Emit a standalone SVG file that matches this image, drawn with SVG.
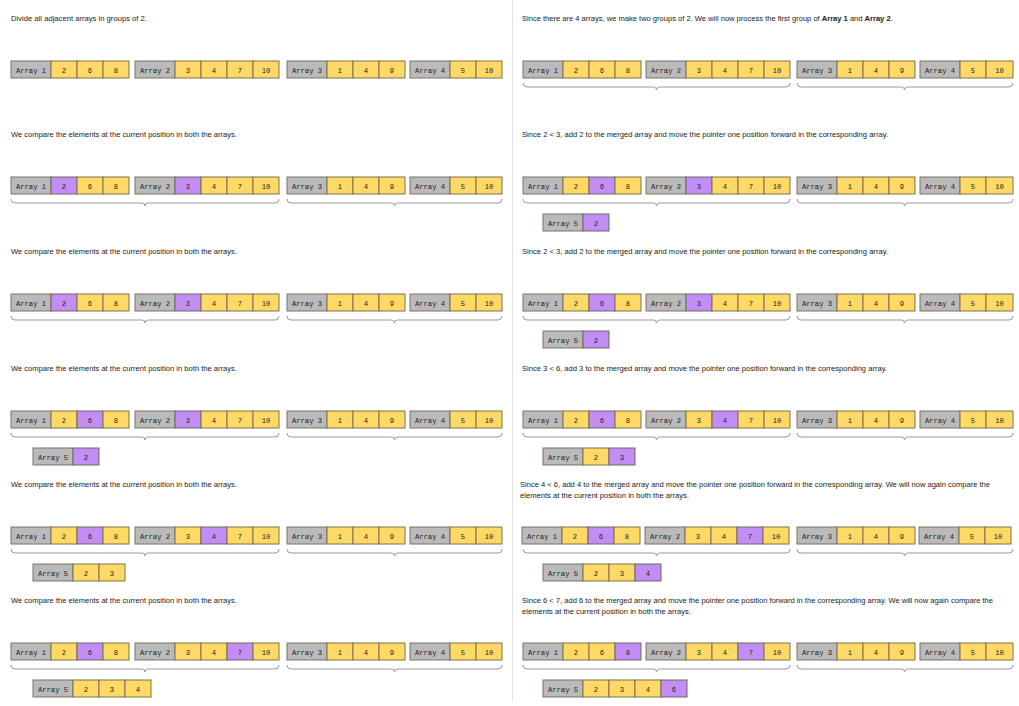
<svg xmlns="http://www.w3.org/2000/svg" width="1019" height="706" viewBox="0 0 1019 706">
<style>
  .h { font-family: "Liberation Sans", Arial, sans-serif; font-size: 7.3px; fill: #222; }
  .b { font-weight: bold; }
  .m { font-family: "Liberation Mono", "Courier New", monospace; font-size: 7.2px; fill: #1e1e1e; text-anchor: middle; }
  .g { fill: #bababa; stroke: #7a7466; stroke-width: 1; }
  .y { fill: #ffd966; stroke: #7d7152; stroke-width: 1; }
  .p { fill: #c28ef6; stroke: #6f6a5a; stroke-width: 1; }
  .br { fill: none; stroke: #9a9a9a; stroke-width: 1; }
  .sep { stroke: #e2e2e2; stroke-width: 1; }
</style>
<defs>
  <!-- braces grouping Array 1+2 and Array 3+4 (local to a panel) -->
  <g id="bracesL">
    <path class="br" d="M11,83 q0,4 4,4 H142 q3,0 3,3 q0,-3 3,-3 H275 q4,0 4,-4"/>
    <path class="br" d="M287,83 q0,4 4,4 H391.5 q3,0 3,3 q0,-3 3,-3 H498 q4,0 4,-4"/>
  </g>
  <g id="bracesR">
    <path class="br" d="M11,83 q0,4 4,4 H141.5 q3,0 3,3 q0,-3 3,-3 H274 q4,0 4,-4"/>
    <path class="br" d="M285,83 q0,4 4,4 H389.5 q3,0 3,3 q0,-3 3,-3 H497 q4,0 4,-4"/>
  </g>
</defs>

<rect width="1019" height="706" fill="#ffffff"/>
<line class="sep" x1="512.5" y1="0" x2="512.5" y2="702"/>

<!-- ===== left column ===== -->
<g id="panel-L1">
  <text class="h" x="11" y="21" textLength="136" lengthAdjust="spacingAndGlyphs">Divide all adjacent arrays in groups of 2.</text>
  <g id="L1-array1" transform="translate(11,61)"><rect class="g" width="40" height="17"/><text class="m" x="20" y="11.5">Array 1</text><rect class="y" x="40" width="26" height="17"/><text class="m" x="53" y="11.5">2</text><rect class="y" x="66" width="26" height="17"/><text class="m" x="79" y="11.5">6</text><rect class="y" x="92" width="26" height="17"/><text class="m" x="105" y="11.5">8</text></g>
  <g id="L1-array2" transform="translate(135,61)"><rect class="g" width="40" height="17"/><text class="m" x="20" y="11.5">Array 2</text><rect class="y" x="40" width="26" height="17"/><text class="m" x="53" y="11.5">3</text><rect class="y" x="66" width="26" height="17"/><text class="m" x="79" y="11.5">4</text><rect class="y" x="92" width="26" height="17"/><text class="m" x="105" y="11.5">7</text><rect class="y" x="118" width="26" height="17"/><text class="m" x="131" y="11.5">10</text></g>
  <g id="L1-array3" transform="translate(287,61)"><rect class="g" width="40" height="17"/><text class="m" x="20" y="11.5">Array 3</text><rect class="y" x="40" width="26" height="17"/><text class="m" x="53" y="11.5">1</text><rect class="y" x="66" width="26" height="17"/><text class="m" x="79" y="11.5">4</text><rect class="y" x="92" width="26" height="17"/><text class="m" x="105" y="11.5">9</text></g>
  <g id="L1-array4" transform="translate(410,61)"><rect class="g" width="40" height="17"/><text class="m" x="20" y="11.5">Array 4</text><rect class="y" x="40" width="26" height="17"/><text class="m" x="53" y="11.5">5</text><rect class="y" x="66" width="26" height="17"/><text class="m" x="79" y="11.5">10</text></g>
</g>

<g id="panel-L2" transform="translate(0,116)">
  <text class="h" x="11" y="21" textLength="226" lengthAdjust="spacingAndGlyphs">We compare the elements at the current position in both the arrays.</text>
  <g id="L2-array1" transform="translate(11,61)"><rect class="g" width="40" height="17"/><text class="m" x="20" y="11.5">Array 1</text><rect class="p" x="40" width="26" height="17"/><text class="m" x="53" y="11.5">2</text><rect class="y" x="66" width="26" height="17"/><text class="m" x="79" y="11.5">6</text><rect class="y" x="92" width="26" height="17"/><text class="m" x="105" y="11.5">8</text></g>
  <g id="L2-array2" transform="translate(135,61)"><rect class="g" width="40" height="17"/><text class="m" x="20" y="11.5">Array 2</text><rect class="p" x="40" width="26" height="17"/><text class="m" x="53" y="11.5">3</text><rect class="y" x="66" width="26" height="17"/><text class="m" x="79" y="11.5">4</text><rect class="y" x="92" width="26" height="17"/><text class="m" x="105" y="11.5">7</text><rect class="y" x="118" width="26" height="17"/><text class="m" x="131" y="11.5">10</text></g>
  <g id="L2-array3" transform="translate(287,61)"><rect class="g" width="40" height="17"/><text class="m" x="20" y="11.5">Array 3</text><rect class="y" x="40" width="26" height="17"/><text class="m" x="53" y="11.5">1</text><rect class="y" x="66" width="26" height="17"/><text class="m" x="79" y="11.5">4</text><rect class="y" x="92" width="26" height="17"/><text class="m" x="105" y="11.5">9</text></g>
  <g id="L2-array4" transform="translate(410,61)"><rect class="g" width="40" height="17"/><text class="m" x="20" y="11.5">Array 4</text><rect class="y" x="40" width="26" height="17"/><text class="m" x="53" y="11.5">5</text><rect class="y" x="66" width="26" height="17"/><text class="m" x="79" y="11.5">10</text></g>
  <g id="L2-braces"><use href="#bracesL"/></g>
</g>

<g id="panel-L3" transform="translate(0,233)">
  <text class="h" x="11" y="21" textLength="226" lengthAdjust="spacingAndGlyphs">We compare the elements at the current position in both the arrays.</text>
  <g id="L3-array1" transform="translate(11,61)"><rect class="g" width="40" height="17"/><text class="m" x="20" y="11.5">Array 1</text><rect class="p" x="40" width="26" height="17"/><text class="m" x="53" y="11.5">2</text><rect class="y" x="66" width="26" height="17"/><text class="m" x="79" y="11.5">6</text><rect class="y" x="92" width="26" height="17"/><text class="m" x="105" y="11.5">8</text></g>
  <g id="L3-array2" transform="translate(135,61)"><rect class="g" width="40" height="17"/><text class="m" x="20" y="11.5">Array 2</text><rect class="p" x="40" width="26" height="17"/><text class="m" x="53" y="11.5">3</text><rect class="y" x="66" width="26" height="17"/><text class="m" x="79" y="11.5">4</text><rect class="y" x="92" width="26" height="17"/><text class="m" x="105" y="11.5">7</text><rect class="y" x="118" width="26" height="17"/><text class="m" x="131" y="11.5">10</text></g>
  <g id="L3-array3" transform="translate(287,61)"><rect class="g" width="40" height="17"/><text class="m" x="20" y="11.5">Array 3</text><rect class="y" x="40" width="26" height="17"/><text class="m" x="53" y="11.5">1</text><rect class="y" x="66" width="26" height="17"/><text class="m" x="79" y="11.5">4</text><rect class="y" x="92" width="26" height="17"/><text class="m" x="105" y="11.5">9</text></g>
  <g id="L3-array4" transform="translate(410,61)"><rect class="g" width="40" height="17"/><text class="m" x="20" y="11.5">Array 4</text><rect class="y" x="40" width="26" height="17"/><text class="m" x="53" y="11.5">5</text><rect class="y" x="66" width="26" height="17"/><text class="m" x="79" y="11.5">10</text></g>
  <g id="L3-braces"><use href="#bracesL"/></g>
</g>

<g id="panel-L4" transform="translate(0,350)">
  <text class="h" x="11" y="21" textLength="226" lengthAdjust="spacingAndGlyphs">We compare the elements at the current position in both the arrays.</text>
  <g id="L4-array1" transform="translate(11,61)"><rect class="g" width="40" height="17"/><text class="m" x="20" y="11.5">Array 1</text><rect class="y" x="40" width="26" height="17"/><text class="m" x="53" y="11.5">2</text><rect class="p" x="66" width="26" height="17"/><text class="m" x="79" y="11.5">6</text><rect class="y" x="92" width="26" height="17"/><text class="m" x="105" y="11.5">8</text></g>
  <g id="L4-array2" transform="translate(135,61)"><rect class="g" width="40" height="17"/><text class="m" x="20" y="11.5">Array 2</text><rect class="p" x="40" width="26" height="17"/><text class="m" x="53" y="11.5">3</text><rect class="y" x="66" width="26" height="17"/><text class="m" x="79" y="11.5">4</text><rect class="y" x="92" width="26" height="17"/><text class="m" x="105" y="11.5">7</text><rect class="y" x="118" width="26" height="17"/><text class="m" x="131" y="11.5">10</text></g>
  <g id="L4-array3" transform="translate(287,61)"><rect class="g" width="40" height="17"/><text class="m" x="20" y="11.5">Array 3</text><rect class="y" x="40" width="26" height="17"/><text class="m" x="53" y="11.5">1</text><rect class="y" x="66" width="26" height="17"/><text class="m" x="79" y="11.5">4</text><rect class="y" x="92" width="26" height="17"/><text class="m" x="105" y="11.5">9</text></g>
  <g id="L4-array4" transform="translate(410,61)"><rect class="g" width="40" height="17"/><text class="m" x="20" y="11.5">Array 4</text><rect class="y" x="40" width="26" height="17"/><text class="m" x="53" y="11.5">5</text><rect class="y" x="66" width="26" height="17"/><text class="m" x="79" y="11.5">10</text></g>
  <g id="L4-braces"><use href="#bracesL"/></g>
  <g id="L4-array5" transform="translate(33,98)"><rect class="g" width="40" height="17"/><text class="m" x="20" y="11.5">Array 5</text><rect class="p" x="40" width="26" height="17"/><text class="m" x="53" y="11.5">2</text></g>
</g>

<g id="panel-L5" transform="translate(0,466)">
  <text class="h" x="11" y="21" textLength="226" lengthAdjust="spacingAndGlyphs">We compare the elements at the current position in both the arrays.</text>
  <g id="L5-array1" transform="translate(11,61)"><rect class="g" width="40" height="17"/><text class="m" x="20" y="11.5">Array 1</text><rect class="y" x="40" width="26" height="17"/><text class="m" x="53" y="11.5">2</text><rect class="p" x="66" width="26" height="17"/><text class="m" x="79" y="11.5">6</text><rect class="y" x="92" width="26" height="17"/><text class="m" x="105" y="11.5">8</text></g>
  <g id="L5-array2" transform="translate(135,61)"><rect class="g" width="40" height="17"/><text class="m" x="20" y="11.5">Array 2</text><rect class="y" x="40" width="26" height="17"/><text class="m" x="53" y="11.5">3</text><rect class="p" x="66" width="26" height="17"/><text class="m" x="79" y="11.5">4</text><rect class="y" x="92" width="26" height="17"/><text class="m" x="105" y="11.5">7</text><rect class="y" x="118" width="26" height="17"/><text class="m" x="131" y="11.5">10</text></g>
  <g id="L5-array3" transform="translate(287,61)"><rect class="g" width="40" height="17"/><text class="m" x="20" y="11.5">Array 3</text><rect class="y" x="40" width="26" height="17"/><text class="m" x="53" y="11.5">1</text><rect class="y" x="66" width="26" height="17"/><text class="m" x="79" y="11.5">4</text><rect class="y" x="92" width="26" height="17"/><text class="m" x="105" y="11.5">9</text></g>
  <g id="L5-array4" transform="translate(410,61)"><rect class="g" width="40" height="17"/><text class="m" x="20" y="11.5">Array 4</text><rect class="y" x="40" width="26" height="17"/><text class="m" x="53" y="11.5">5</text><rect class="y" x="66" width="26" height="17"/><text class="m" x="79" y="11.5">10</text></g>
  <g id="L5-braces"><use href="#bracesL"/></g>
  <g id="L5-array5" transform="translate(33,98)"><rect class="g" width="40" height="17"/><text class="m" x="20" y="11.5">Array 5</text><rect class="y" x="40" width="26" height="17"/><text class="m" x="53" y="11.5">2</text><rect class="y" x="66" width="26" height="17"/><text class="m" x="79" y="11.5">3</text></g>
</g>

<g id="panel-L6" transform="translate(0,582)">
  <text class="h" x="11" y="21" textLength="226" lengthAdjust="spacingAndGlyphs">We compare the elements at the current position in both the arrays.</text>
  <g id="L6-array1" transform="translate(11,61)"><rect class="g" width="40" height="17"/><text class="m" x="20" y="11.5">Array 1</text><rect class="y" x="40" width="26" height="17"/><text class="m" x="53" y="11.5">2</text><rect class="p" x="66" width="26" height="17"/><text class="m" x="79" y="11.5">6</text><rect class="y" x="92" width="26" height="17"/><text class="m" x="105" y="11.5">8</text></g>
  <g id="L6-array2" transform="translate(135,61)"><rect class="g" width="40" height="17"/><text class="m" x="20" y="11.5">Array 2</text><rect class="y" x="40" width="26" height="17"/><text class="m" x="53" y="11.5">3</text><rect class="y" x="66" width="26" height="17"/><text class="m" x="79" y="11.5">4</text><rect class="p" x="92" width="26" height="17"/><text class="m" x="105" y="11.5">7</text><rect class="y" x="118" width="26" height="17"/><text class="m" x="131" y="11.5">10</text></g>
  <g id="L6-array3" transform="translate(287,61)"><rect class="g" width="40" height="17"/><text class="m" x="20" y="11.5">Array 3</text><rect class="y" x="40" width="26" height="17"/><text class="m" x="53" y="11.5">1</text><rect class="y" x="66" width="26" height="17"/><text class="m" x="79" y="11.5">4</text><rect class="y" x="92" width="26" height="17"/><text class="m" x="105" y="11.5">9</text></g>
  <g id="L6-array4" transform="translate(410,61)"><rect class="g" width="40" height="17"/><text class="m" x="20" y="11.5">Array 4</text><rect class="y" x="40" width="26" height="17"/><text class="m" x="53" y="11.5">5</text><rect class="y" x="66" width="26" height="17"/><text class="m" x="79" y="11.5">10</text></g>
  <g id="L6-braces"><use href="#bracesL"/></g>
  <g id="L6-array5" transform="translate(33,98)"><rect class="g" width="40" height="17"/><text class="m" x="20" y="11.5">Array 5</text><rect class="y" x="40" width="26" height="17"/><text class="m" x="53" y="11.5">2</text><rect class="y" x="66" width="26" height="17"/><text class="m" x="79" y="11.5">3</text><rect class="y" x="92" width="26" height="17"/><text class="m" x="105" y="11.5">4</text></g>
</g>

<!-- ===== right column ===== -->
<g id="panel-R1" transform="translate(512,0)">
  <text class="h" x="10" y="21" style="font-size:7.55px">Since there are 4 arrays, we make two groups of 2. We will now process the first group of <tspan class="b">Array 1</tspan> and <tspan class="b">Array 2</tspan>.</text>
  <g id="R1-array1" transform="translate(11,61)"><rect class="g" width="40" height="17"/><text class="m" x="20" y="11.5">Array 1</text><rect class="y" x="40" width="26" height="17"/><text class="m" x="53" y="11.5">2</text><rect class="y" x="66" width="26" height="17"/><text class="m" x="79" y="11.5">6</text><rect class="y" x="92" width="26" height="17"/><text class="m" x="105" y="11.5">8</text></g>
  <g id="R1-array2" transform="translate(134,61)"><rect class="g" width="40" height="17"/><text class="m" x="20" y="11.5">Array 2</text><rect class="y" x="40" width="26" height="17"/><text class="m" x="53" y="11.5">3</text><rect class="y" x="66" width="26" height="17"/><text class="m" x="79" y="11.5">4</text><rect class="y" x="92" width="26" height="17"/><text class="m" x="105" y="11.5">7</text><rect class="y" x="118" width="26" height="17"/><text class="m" x="131" y="11.5">10</text></g>
  <g id="R1-array3" transform="translate(285,61)"><rect class="g" width="40" height="17"/><text class="m" x="20" y="11.5">Array 3</text><rect class="y" x="40" width="26" height="17"/><text class="m" x="53" y="11.5">1</text><rect class="y" x="66" width="26" height="17"/><text class="m" x="79" y="11.5">4</text><rect class="y" x="92" width="26" height="17"/><text class="m" x="105" y="11.5">9</text></g>
  <g id="R1-array4" transform="translate(408,61)"><rect class="g" width="40" height="17"/><text class="m" x="20" y="11.5">Array 4</text><rect class="y" x="40" width="26" height="17"/><text class="m" x="53" y="11.5">5</text><rect class="y" x="66" width="27" height="17"/><text class="m" x="79.5" y="11.5">10</text></g>
  <g id="R1-braces"><use href="#bracesR"/></g>
</g>

<g id="panel-R2" transform="translate(512,116)">
  <text class="h" x="10" y="21" textLength="366" lengthAdjust="spacingAndGlyphs">Since 2 &lt; 3, add 2 to the merged array and move the pointer one position forward in the corresponding array.</text>
  <g id="R2-array1" transform="translate(11,61)"><rect class="g" width="40" height="17"/><text class="m" x="20" y="11.5">Array 1</text><rect class="y" x="40" width="26" height="17"/><text class="m" x="53" y="11.5">2</text><rect class="p" x="66" width="26" height="17"/><text class="m" x="79" y="11.5">6</text><rect class="y" x="92" width="26" height="17"/><text class="m" x="105" y="11.5">8</text></g>
  <g id="R2-array2" transform="translate(134,61)"><rect class="g" width="40" height="17"/><text class="m" x="20" y="11.5">Array 2</text><rect class="p" x="40" width="26" height="17"/><text class="m" x="53" y="11.5">3</text><rect class="y" x="66" width="26" height="17"/><text class="m" x="79" y="11.5">4</text><rect class="y" x="92" width="26" height="17"/><text class="m" x="105" y="11.5">7</text><rect class="y" x="118" width="26" height="17"/><text class="m" x="131" y="11.5">10</text></g>
  <g id="R2-array3" transform="translate(285,61)"><rect class="g" width="40" height="17"/><text class="m" x="20" y="11.5">Array 3</text><rect class="y" x="40" width="26" height="17"/><text class="m" x="53" y="11.5">1</text><rect class="y" x="66" width="26" height="17"/><text class="m" x="79" y="11.5">4</text><rect class="y" x="92" width="26" height="17"/><text class="m" x="105" y="11.5">9</text></g>
  <g id="R2-array4" transform="translate(408,61)"><rect class="g" width="40" height="17"/><text class="m" x="20" y="11.5">Array 4</text><rect class="y" x="40" width="26" height="17"/><text class="m" x="53" y="11.5">5</text><rect class="y" x="66" width="27" height="17"/><text class="m" x="79.5" y="11.5">10</text></g>
  <g id="R2-braces"><use href="#bracesR"/></g>
  <g id="R2-array5" transform="translate(31,98)"><rect class="g" width="40" height="17"/><text class="m" x="20" y="11.5">Array 5</text><rect class="p" x="40" width="26" height="17"/><text class="m" x="53" y="11.5">2</text></g>
</g>

<g id="panel-R3" transform="translate(512,233)">
  <text class="h" x="10" y="21" textLength="366" lengthAdjust="spacingAndGlyphs">Since 2 &lt; 3, add 2 to the merged array and move the pointer one position forward in the corresponding array.</text>
  <g id="R3-array1" transform="translate(11,61)"><rect class="g" width="40" height="17"/><text class="m" x="20" y="11.5">Array 1</text><rect class="y" x="40" width="26" height="17"/><text class="m" x="53" y="11.5">2</text><rect class="p" x="66" width="26" height="17"/><text class="m" x="79" y="11.5">6</text><rect class="y" x="92" width="26" height="17"/><text class="m" x="105" y="11.5">8</text></g>
  <g id="R3-array2" transform="translate(134,61)"><rect class="g" width="40" height="17"/><text class="m" x="20" y="11.5">Array 2</text><rect class="p" x="40" width="26" height="17"/><text class="m" x="53" y="11.5">3</text><rect class="y" x="66" width="26" height="17"/><text class="m" x="79" y="11.5">4</text><rect class="y" x="92" width="26" height="17"/><text class="m" x="105" y="11.5">7</text><rect class="y" x="118" width="26" height="17"/><text class="m" x="131" y="11.5">10</text></g>
  <g id="R3-array3" transform="translate(285,61)"><rect class="g" width="40" height="17"/><text class="m" x="20" y="11.5">Array 3</text><rect class="y" x="40" width="26" height="17"/><text class="m" x="53" y="11.5">1</text><rect class="y" x="66" width="26" height="17"/><text class="m" x="79" y="11.5">4</text><rect class="y" x="92" width="26" height="17"/><text class="m" x="105" y="11.5">9</text></g>
  <g id="R3-array4" transform="translate(408,61)"><rect class="g" width="40" height="17"/><text class="m" x="20" y="11.5">Array 4</text><rect class="y" x="40" width="26" height="17"/><text class="m" x="53" y="11.5">5</text><rect class="y" x="66" width="27" height="17"/><text class="m" x="79.5" y="11.5">10</text></g>
  <g id="R3-braces"><use href="#bracesR"/></g>
  <g id="R3-array5" transform="translate(31,98)"><rect class="g" width="40" height="17"/><text class="m" x="20" y="11.5">Array 5</text><rect class="p" x="40" width="26" height="17"/><text class="m" x="53" y="11.5">2</text></g>
</g>

<g id="panel-R4" transform="translate(512,350)">
  <text class="h" x="10" y="21" textLength="365" lengthAdjust="spacingAndGlyphs">Since 3 &lt; 6, add 3 to the merged array and move the pointer one position forward in the corresponding array.</text>
  <g id="R4-array1" transform="translate(11,61)"><rect class="g" width="40" height="17"/><text class="m" x="20" y="11.5">Array 1</text><rect class="y" x="40" width="26" height="17"/><text class="m" x="53" y="11.5">2</text><rect class="p" x="66" width="26" height="17"/><text class="m" x="79" y="11.5">6</text><rect class="y" x="92" width="26" height="17"/><text class="m" x="105" y="11.5">8</text></g>
  <g id="R4-array2" transform="translate(134,61)"><rect class="g" width="40" height="17"/><text class="m" x="20" y="11.5">Array 2</text><rect class="y" x="40" width="26" height="17"/><text class="m" x="53" y="11.5">3</text><rect class="p" x="66" width="26" height="17"/><text class="m" x="79" y="11.5">4</text><rect class="y" x="92" width="26" height="17"/><text class="m" x="105" y="11.5">7</text><rect class="y" x="118" width="26" height="17"/><text class="m" x="131" y="11.5">10</text></g>
  <g id="R4-array3" transform="translate(285,61)"><rect class="g" width="40" height="17"/><text class="m" x="20" y="11.5">Array 3</text><rect class="y" x="40" width="26" height="17"/><text class="m" x="53" y="11.5">1</text><rect class="y" x="66" width="26" height="17"/><text class="m" x="79" y="11.5">4</text><rect class="y" x="92" width="26" height="17"/><text class="m" x="105" y="11.5">9</text></g>
  <g id="R4-array4" transform="translate(408,61)"><rect class="g" width="40" height="17"/><text class="m" x="20" y="11.5">Array 4</text><rect class="y" x="40" width="26" height="17"/><text class="m" x="53" y="11.5">5</text><rect class="y" x="66" width="27" height="17"/><text class="m" x="79.5" y="11.5">10</text></g>
  <g id="R4-braces"><use href="#bracesR"/></g>
  <g id="R4-array5" transform="translate(31,98)"><rect class="g" width="40" height="17"/><text class="m" x="20" y="11.5">Array 5</text><rect class="y" x="40" width="26" height="17"/><text class="m" x="53" y="11.5">2</text><rect class="p" x="66" width="26" height="17"/><text class="m" x="79" y="11.5">3</text></g>
</g>

<g id="panel-R5" transform="translate(512,466)">
  <text class="h" x="8" y="21" textLength="470" lengthAdjust="spacingAndGlyphs">Since 4 &lt; 6, add 4 to the merged array and move the pointer one position forward in the corresponding array. We will now again compare the</text>
  <text class="h" x="8" y="32" textLength="169" lengthAdjust="spacingAndGlyphs">elements at the current position in both the arrays.</text>
  <g id="R5-array1" transform="translate(10,61)"><rect class="g" width="40" height="17"/><text class="m" x="20" y="11.5">Array 1</text><rect class="y" x="40" width="26" height="17"/><text class="m" x="53" y="11.5">2</text><rect class="p" x="66" width="26" height="17"/><text class="m" x="79" y="11.5">6</text><rect class="y" x="92" width="26" height="17"/><text class="m" x="105" y="11.5">8</text></g>
  <g id="R5-array2" transform="translate(133,61)"><rect class="g" width="40" height="17"/><text class="m" x="20" y="11.5">Array 2</text><rect class="y" x="40" width="26" height="17"/><text class="m" x="53" y="11.5">3</text><rect class="y" x="66" width="26" height="17"/><text class="m" x="79" y="11.5">4</text><rect class="p" x="92" width="26" height="17"/><text class="m" x="105" y="11.5">7</text><rect class="y" x="118" width="26" height="17"/><text class="m" x="131" y="11.5">10</text></g>
  <g id="R5-array3" transform="translate(285,61)"><rect class="g" width="40" height="17"/><text class="m" x="20" y="11.5">Array 3</text><rect class="y" x="40" width="26" height="17"/><text class="m" x="53" y="11.5">1</text><rect class="y" x="66" width="26" height="17"/><text class="m" x="79" y="11.5">4</text><rect class="y" x="92" width="26" height="17"/><text class="m" x="105" y="11.5">9</text></g>
  <g id="R5-array4" transform="translate(407,61)"><rect class="g" width="40" height="17"/><text class="m" x="20" y="11.5">Array 4</text><rect class="y" x="40" width="26" height="17"/><text class="m" x="53" y="11.5">5</text><rect class="y" x="66" width="26" height="17"/><text class="m" x="79" y="11.5">10</text></g>
  <g id="R5-braces"><use href="#bracesR"/></g>
  <g id="R5-array5" transform="translate(31,98)"><rect class="g" width="40" height="17"/><text class="m" x="20" y="11.5">Array 5</text><rect class="y" x="40" width="26" height="17"/><text class="m" x="53" y="11.5">2</text><rect class="y" x="66" width="26" height="17"/><text class="m" x="79" y="11.5">3</text><rect class="p" x="92" width="26" height="17"/><text class="m" x="105" y="11.5">4</text></g>
</g>

<g id="panel-R6" transform="translate(512,582)">
  <text class="h" x="10" y="21" textLength="471" lengthAdjust="spacingAndGlyphs">Since 6 &lt; 7, add 6 to the merged array and move the pointer one position forward in the corresponding array. We will now again compare the</text>
  <text class="h" x="10" y="32" textLength="169" lengthAdjust="spacingAndGlyphs">elements at the current position in both the arrays.</text>
  <g id="R6-array1" transform="translate(11,61)"><rect class="g" width="40" height="17"/><text class="m" x="20" y="11.5">Array 1</text><rect class="y" x="40" width="26" height="17"/><text class="m" x="53" y="11.5">2</text><rect class="y" x="66" width="26" height="17"/><text class="m" x="79" y="11.5">6</text><rect class="p" x="92" width="26" height="17"/><text class="m" x="105" y="11.5">8</text></g>
  <g id="R6-array2" transform="translate(134,61)"><rect class="g" width="40" height="17"/><text class="m" x="20" y="11.5">Array 2</text><rect class="y" x="40" width="26" height="17"/><text class="m" x="53" y="11.5">3</text><rect class="y" x="66" width="26" height="17"/><text class="m" x="79" y="11.5">4</text><rect class="p" x="92" width="26" height="17"/><text class="m" x="105" y="11.5">7</text><rect class="y" x="118" width="26" height="17"/><text class="m" x="131" y="11.5">10</text></g>
  <g id="R6-array3" transform="translate(285,61)"><rect class="g" width="40" height="17"/><text class="m" x="20" y="11.5">Array 3</text><rect class="y" x="40" width="26" height="17"/><text class="m" x="53" y="11.5">1</text><rect class="y" x="66" width="26" height="17"/><text class="m" x="79" y="11.5">4</text><rect class="y" x="92" width="26" height="17"/><text class="m" x="105" y="11.5">9</text></g>
  <g id="R6-array4" transform="translate(408,61)"><rect class="g" width="40" height="17"/><text class="m" x="20" y="11.5">Array 4</text><rect class="y" x="40" width="26" height="17"/><text class="m" x="53" y="11.5">5</text><rect class="y" x="66" width="27" height="17"/><text class="m" x="79.5" y="11.5">10</text></g>
  <g id="R6-braces"><use href="#bracesR"/></g>
  <g id="R6-array5" transform="translate(31,98)"><rect class="g" width="40" height="17"/><text class="m" x="20" y="11.5">Array 5</text><rect class="y" x="40" width="26" height="17"/><text class="m" x="53" y="11.5">2</text><rect class="y" x="66" width="26" height="17"/><text class="m" x="79" y="11.5">3</text><rect class="y" x="92" width="26" height="17"/><text class="m" x="105" y="11.5">4</text><rect class="p" x="118" width="26" height="17"/><text class="m" x="131" y="11.5">6</text></g>
</g>
</svg>
